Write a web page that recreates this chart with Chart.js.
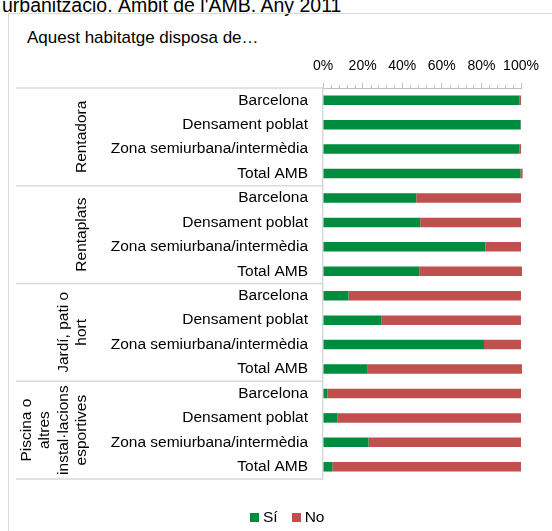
<!DOCTYPE html>
<html><head><meta charset="utf-8">
<script src="https://cdn.jsdelivr.net/npm/chart.js@4"></script>
<style>
html,body{margin:0;padding:0;background:#fff;}
#wrap{position:relative;width:552px;height:531px;overflow:hidden;font-family:"Liberation Sans",Arial,sans-serif;color:#000;}
#title{position:absolute;left:2px;top:-7px;font-size:19.5px;white-space:nowrap;line-height:24px;}
#box{position:absolute;left:8px;top:13px;width:600px;height:600px;border:1px solid #d9d9d9;box-sizing:border-box;}
#sub{position:absolute;left:27px;top:29px;font-size:17px;line-height:18px;white-space:nowrap;}
#legend{position:absolute;left:250px;top:508px;font-size:15.5px;line-height:18px;white-space:nowrap;}
#legend span.sw{display:inline-block;width:9px;height:9px;margin-right:4px;vertical-align:0px;}
#legend span.it{margin-right:14px;}
canvas{position:absolute;left:0;top:0;}
</style>
</head><body>
<div id="wrap">
<div id="title">urbanització. Àmbit de l'AMB. Any 2011</div>
<div id="box"></div>
<div id="sub">Aquest habitatge disposa de…</div>
<canvas id="c" width="552" height="531"></canvas>
<div id="legend"></div>
</div>
<script>
const groups = ["Rentadora", "Rentaplats", "Jardí, pati o hort", "Piscina o altres instal·lacions esportives"];
const groupLines = [["Rentadora"], ["Rentaplats"], ["Jardí, pati o", "hort"], ["Piscina o", "altres", "instal·lacions", "esportives"]];
const regions = ["Barcelona", "Densament poblat", "Zona semiurbana/intermèdia", "Total AMB"];
const seriesNames = ["Sí", "No"];
const siValues = [99.1, 99.8, 99.1, 99.8, 47.1, 49.1, 82.0, 48.6, 12.9, 29.6, 81.3, 22.3, 2.2, 7.4, 23.0, 4.7];
const noValues = [0.9, 0.2, 0.9, 1.0, 52.9, 50.9, 18.0, 51.9, 87.1, 70.4, 18.7, 78.2, 97.8, 92.6, 77.0, 95.3];
const tickValues = [0, 20, 40, 60, 80, 100];
const colors = ["#008C3E", "#C0504D"];

const labels = [];
groups.forEach(() => regions.forEach(r => labels.push(r)));

const FONT = '"Liberation Sans", Arial, sans-serif';

const decor = {
  id: 'decor',
  afterDraw(chart) {
    const ctx = chart.ctx;
    const ys = chart.scales.y, xs = chart.scales.x;
    const area = chart.chartArea;
    const n = labels.length;
    const half = (ys.getPixelForValue(1) - ys.getPixelForValue(0)) / 2;
    ctx.save();
    // minor ticks
    ctx.strokeStyle = '#bfbfbf';
    ctx.lineWidth = 1;
    for (let v = 0; v <= 100; v += 4) {
      if (v % 20 === 0) continue;
      const x = Math.round(xs.getPixelForValue(v)) + 0.5;
      ctx.beginPath();
      ctx.moveTo(x, area.top - 3);
      ctx.lineTo(x, area.top);
      ctx.stroke();
    }
    // group separators
    ctx.strokeStyle = '#d9d9d9';
    ctx.lineWidth = 1.5;
    for (let g = 0; g <= groups.length; g++) {
      const idx = g * regions.length;
      const y = idx < n ? ys.getPixelForValue(idx) - half : ys.getPixelForValue(n - 1) + half;
      ctx.beginPath();
      ctx.moveTo(16, y);
      ctx.lineTo(area.left, y);
      ctx.stroke();
    }
    // group labels
    ctx.fillStyle = '#000';
    ctx.font = '15.5px ' + FONT;
    ctx.textAlign = 'center';
    ctx.textBaseline = 'middle';
    groupLines.forEach((lines, g) => {
      const i0 = g * regions.length;
      const yc = (ys.getPixelForValue(i0) + ys.getPixelForValue(i0 + regions.length - 1)) / 2;
      const m = lines.length;
      lines.forEach((ln, k) => {
        const x = 82 - (m - 1 - k) * 18.5;
        ctx.save();
        ctx.translate(x, yc);
        ctx.rotate(-Math.PI / 2);
        ctx.fillText(ln, 0, 0);
        ctx.restore();
      });
    });
    ctx.restore();
  }
};

new Chart(document.getElementById('c'), {
  type: 'bar',
  data: {
    labels: labels,
    datasets: [
      { label: seriesNames[0], data: siValues, backgroundColor: colors[0], borderWidth: 0, clip: false },
      { label: seriesNames[1], data: noValues, backgroundColor: colors[1], borderWidth: 0, clip: false }
    ]
  },
  options: {
    indexAxis: 'y',
    responsive: false,
    animation: false,
    devicePixelRatio: 1,
    barPercentage: 0.39,
    categoryPercentage: 1,
    layout: { padding: { left: 0, right: 31, top: 0, bottom: 52 } },
    plugins: { legend: { display: false }, tooltip: { enabled: false } },
    scales: {
      x: {
        position: 'top',
        stacked: true,
        min: 0, max: 100,
        afterBuildTicks: s => { s.ticks = tickValues.map(v => ({ value: v })); },
        afterFit: s => { s.height = 88; },
        ticks: { callback: v => v + '%', font: { family: FONT, size: 14 }, color: '#000', padding: 8, maxRotation: 0, autoSkip: false },
        grid: { drawOnChartArea: false, drawTicks: true, tickLength: 5, color: '#bfbfbf' },
        border: { display: true, color: '#bfbfbf', width: 1 }
      },
      y: {
        stacked: true,
        afterFit: s => { s.width = 323; },
        ticks: { font: { family: FONT, size: 15.5 }, color: '#000', padding: 15, autoSkip: false },
        grid: { display: false, drawTicks: false },
        border: { display: true, color: '#d9d9d9', width: 1.5 }
      }
    }
  },
  plugins: [decor]
});

const lg = document.getElementById('legend');
seriesNames.forEach((nm, i) => {
  const it = document.createElement('span');
  it.className = 'it';
  it.innerHTML = '<span class="sw" style="background:' + colors[i] + '"></span>' + nm;
  lg.appendChild(it);
});
</script>
</body></html>
